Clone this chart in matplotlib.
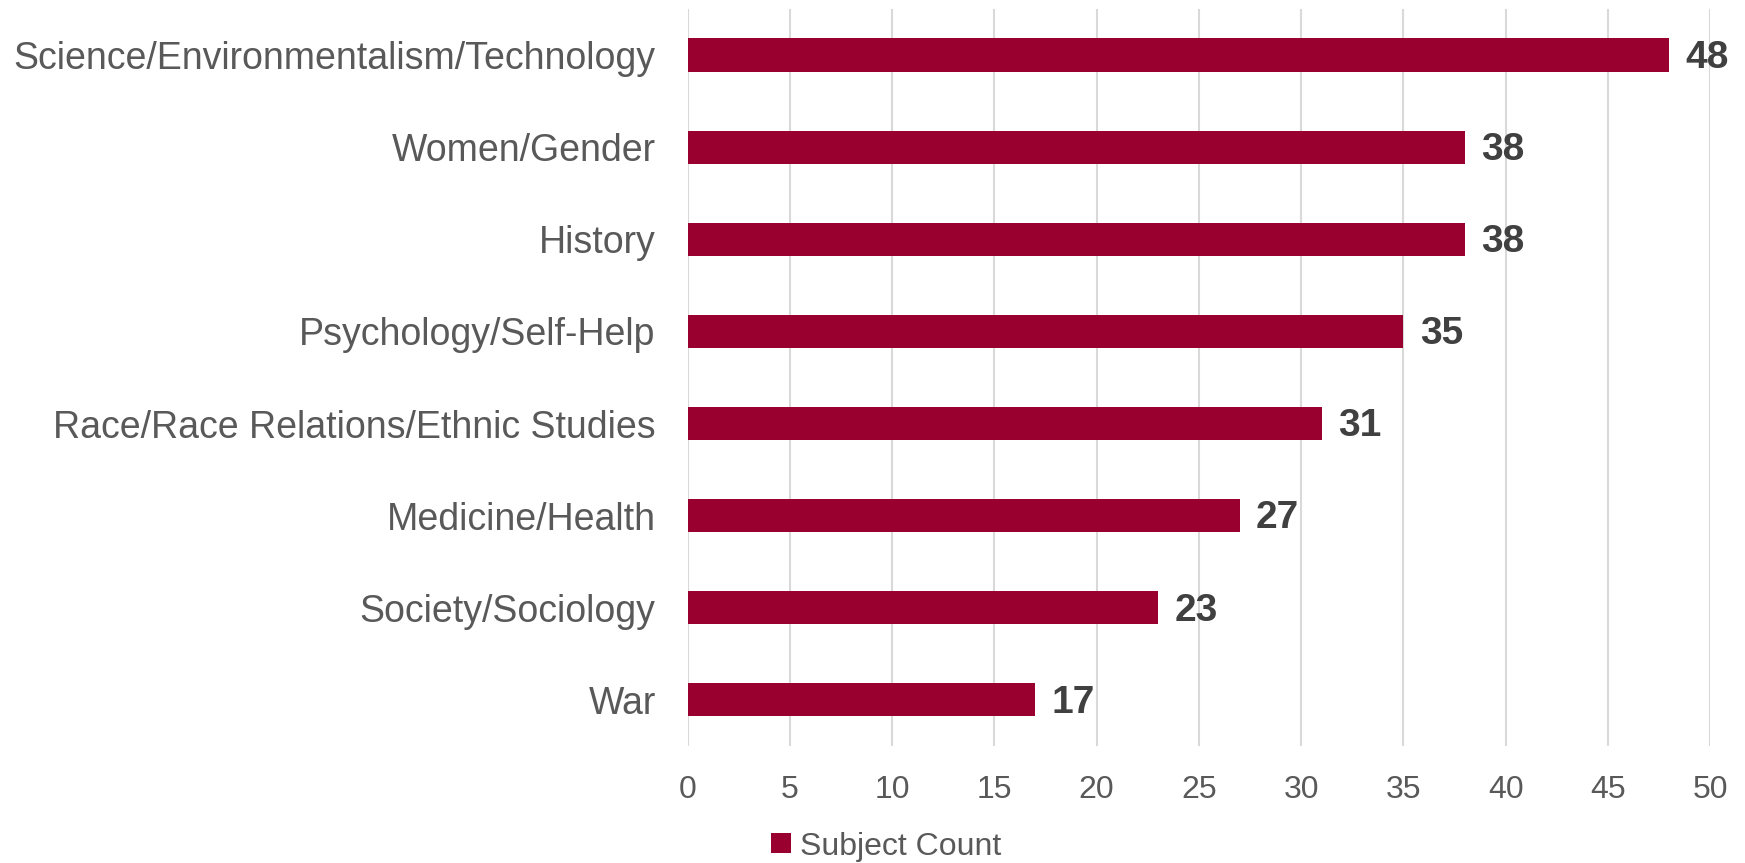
import matplotlib.pyplot as plt
import numpy as np

categories = ["Science/Environmentalism/Technology", "Women/Gender", "History",
              "Psychology/Self-Help", "Race/Race Relations/Ethnic Studies",
              "Medicine/Health", "Society/Sociology", "War"]
counts = [48, 38, 38, 35, 31, 27, 23, 17]
xticks = [0, 5, 10, 15, 20, 25, 30, 35, 40, 45, 50]

plt.rcParams['font.family'] = ['Liberation Sans', 'DejaVu Sans']

fig = plt.figure(figsize=(17.45, 8.63), dpi=100)
ax = fig.add_axes([0.394, 0.1356, 0.586, 0.854])

y = np.arange(len(categories))
bars = ax.barh(y, counts, height=0.36, color="#990030", label="Subject Count", zorder=3)

# value labels to the right of each bar
for yi, v in zip(y, counts):
    ax.text(v + 0.8, yi + 0.03, str(v), va="center", ha="left", fontsize=28,
            fontweight="bold", color="#404040")

ax.set_yticks(y)
ax.set_yticklabels(categories, fontsize=27, color="#595959")
ax.set_xticks(xticks)
ax.set_xticklabels([str(t) for t in xticks], fontsize=23, color="#595959")
ax.set_xlim(0, 50)
ax.set_ylim(len(categories) - 0.5, -0.5)
ax.tick_params(axis="y", length=0, pad=23)
ax.tick_params(axis="x", length=0, pad=21)
ax.grid(axis="x", color="#d9d9d9", linewidth=1.5, zorder=0)
for s in ax.spines.values():
    s.set_visible(False)

fig.legend(handles=[bars], labels=["Subject Count"], loc="center",
           bbox_to_anchor=(0.508, 0.019), frameon=False, fontsize=23,
           handlelength=0.6, handleheight=0.6, handletextpad=0.3,
           labelcolor="#595959")

fig.savefig("out.png", dpi=100)
